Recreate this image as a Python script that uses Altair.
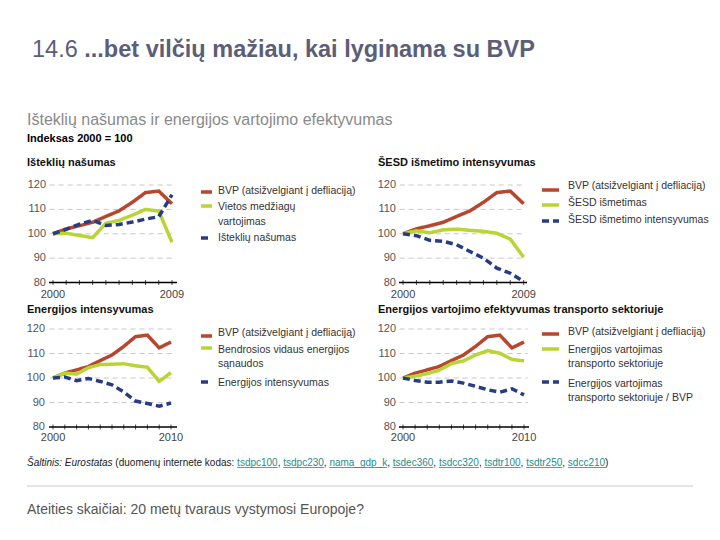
import altair as alt
import pandas as pd

FONT = "Liberation Sans"
M = 8            # page margin: image px -> chart px
W, H = 704, 524

# ---------------- data ----------------
YEARS_09 = list(range(2000, 2010))
YEARS_10 = list(range(2000, 2011))

GDP = [100, 102.0, 103.3, 104.7, 107.1, 109.4, 112.9, 116.9, 117.5, 112.3, 114.7]
DMC = [100, 100.2, 99.3, 98.4, 104.3, 105.5, 107.6, 110.0, 109.3, 96.5]
RES_PROD = [100, 101.8, 103.9, 105.5, 103.4, 103.8, 104.8, 106.0, 107.0, 116.0]
GHG = [100, 101.2, 100.4, 101.6, 101.9, 101.4, 101.0, 100.2, 97.8, 90.4]
GHG_INT = [100, 99.2, 97.3, 96.9, 95.5, 92.7, 90.0, 85.9, 83.8, 80.4]
GIEC = [100, 102.0, 101.6, 104.2, 105.5, 105.6, 105.8, 105.0, 104.4, 98.6, 102.2]
EN_INT = [100, 100.4, 98.9, 99.8, 98.6, 97.2, 94.3, 90.6, 89.6, 88.5, 89.8]
TRANSP = [100, 100.7, 101.8, 103.2, 105.9, 107.0, 109.4, 111.2, 110.1, 107.6, 107.0]
TRANSP_GDP = [100, 99.0, 98.3, 98.3, 98.8, 97.9, 96.6, 95.2, 94.2, 95.6, 93.1]

Y_TICKS = [80, 90, 100, 110, 120]
GRID = [90, 100, 110, 120]

TITLE_NUM = "14.6 "
TITLE_BOLD = "...bet vilčių mažiau, kai lyginama su BVP"
SUBTITLE = "Išteklių našumas ir energijos vartojimo efektyvumas"
INDEX_NOTE = "Indeksas 2000 = 100"
PANEL_TITLES = ["Išteklių našumas", "ŠESD išmetimo intensyvumas",
                "Energijos intensyvumas",
                "Energijos vartojimo efektyvumas transporto sektoriuje"]
BVP = "BVP (atsižvelgiant į defliaciją)"
NAMES_1 = [BVP, "Vietos medžiagų vartojimas", "Išteklių našumas"]
LEGEND_1 = [[BVP], ["Vietos medžiagų", "vartojimas"], ["Išteklių našumas"]]
NAMES_2 = [BVP, "ŠESD išmetimas", "ŠESD išmetimo intensyvumas"]
LEGEND_2 = [[BVP], ["ŠESD išmetimas"], ["ŠESD išmetimo intensyvumas"]]
NAMES_3 = [BVP, "Bendrosios vidaus energijos sąnaudos", "Energijos intensyvumas"]
LEGEND_3 = [[BVP], ["Bendrosios vidaus energijos", "sąnaudos"], ["Energijos intensyvumas"]]
NAMES_4 = [BVP, "Energijos vartojimas transporto sektoriuje",
           "Energijos vartojimas transporto sektoriuje / BVP"]
LEGEND_4 = [[BVP], ["Energijos vartojimas", "transporto sektoriuje"],
            ["Energijos vartojimas", "transporto sektoriuje / BVP"]]

SOURCE_ITALIC = "Šaltinis: Eurostatas "
SOURCE_PLAIN = "(duomenų internete kodas: "
CODES = ["tsdpc100", "tsdpc230", "nama_gdp_k", "tsdec360", "tsdcc320",
         "tsdtr100", "tsdtr250", "sdcc210"]
FOOTER = "Ateities skaičiai: 20 metų tvaraus vystymosi Europoje?"

# ---------------- style ----------------
RED, GREEN, BLUE = "#b6472f", "#b9d434", "#263c86"
GRID_C = "#c8c8c8"
TEAL = "#1f8c8c"
LEG_FS = 10.5

# Arial / Liberation Sans advance widths (1/1000 em) for text layout
AW = {' ': 278, '(': 333, ')': 333, ',': 278, '.': 278, ':': 278, '_': 556,
      'a': 556, 'b': 556, 'c': 500, 'd': 556, 'e': 556, 'f': 278, 'g': 556,
      'h': 556, 'i': 222, 'j': 222, 'k': 500, 'l': 222, 'm': 833, 'n': 556,
      'o': 556, 'p': 556, 'q': 556, 'r': 333, 's': 500, 't': 278, 'u': 556,
      'v': 500, 'w': 722, 'x': 500, 'y': 500, 'z': 500, 'E': 667, 'Š': 667,
      'ų': 556, 'ą': 556, 'č': 500, 'ž': 500, 'į': 222}


def tw(s, size):
    return sum(AW.get(c, 556) for c in s) * size / 1000.0


def text_layer(t, x, y, size=11, color="#333333", weight="normal",
               style="normal", baseline="middle"):
    return alt.Chart(pd.DataFrame({"t": [t]})).mark_text(
        align="left", baseline=baseline, font=FONT, fontSize=size,
        fontWeight=weight, fontStyle=style, color=color
    ).encode(text="t:N", x=alt.value(x - M), y=alt.value(y - M))


def rule_layer(x1, x2, y, color, width=1.0):
    return alt.Chart(pd.DataFrame({"k": [0]})).mark_rule(
        color=color, strokeWidth=width
    ).encode(x=alt.value(x1 - M), x2=alt.value(x2 - M), y=alt.value(y - M))


def panel(years, series, names, legend_lines, title, geo, leg):
    df = pd.DataFrame([{"year": yr, "value": v, "series": n}
                       for n, vals in zip(names, series)
                       for yr, v in zip(years, vals)])
    xs = alt.Scale(domain=geo["xdom"], range=[geo["xrng"][0] - M, geo["xrng"][1] - M],
                   nice=False, zero=False)
    ys = alt.Scale(domain=[80, 120], range=[geo["yrng"][0] - M, geo["yrng"][1] - M],
                   nice=False, zero=False)
    cs = alt.Scale(domain=names, range=[RED, GREEN, BLUE])
    ds = alt.Scale(domain=names, range=[[1, 0], [1, 0], [7, 4]])
    y_axis_px = geo["yrng"][0] - M

    # dashed grid lines
    grid = alt.Chart(pd.DataFrame({"v": GRID,
                                   "a": [geo["xdom"][0] + 0.05] * len(GRID),
                                   "b": [geo["xdom"][1] - 0.1] * len(GRID)})).mark_rule(
        color=GRID_C, strokeWidth=1, strokeDash=[5, 4]
    ).encode(x=alt.X("a:Q", scale=xs, axis=None), x2="b:Q",
             y=alt.Y("v:Q", scale=ys, axis=None))

    # x axis: baseline, year ticks, first/last labels
    base = alt.Chart(pd.DataFrame({"a": [geo["xdom"][0]], "b": [geo["xdom"][1]],
                                   "v": [80]})).mark_rule(color="#000000", strokeWidth=1.6).encode(
        x=alt.X("a:Q", scale=xs, axis=None), x2="b:Q",
        y=alt.Y("v:Q", scale=ys, axis=None))
    ticks = alt.Chart(pd.DataFrame({"year": years})).mark_tick(
        color="#000000", size=5, thickness=1, orient="vertical"
    ).encode(x=alt.X("year:Q", scale=xs, axis=None), y=alt.value(y_axis_px))
    xlab = alt.Chart(pd.DataFrame({"year": [years[0], years[-1]]})).mark_text(
        font=FONT, fontSize=11, color="#444444", align="center", baseline="middle"
    ).encode(x=alt.X("year:Q", scale=xs, axis=None),
             y=alt.value(y_axis_px + geo["xl"]),
             text=alt.Text("year:Q", format="d"))
    # y axis labels
    ylab = alt.Chart(pd.DataFrame({"v": Y_TICKS})).mark_text(
        font=FONT, fontSize=11, color="#555555", align="right", baseline="middle"
    ).encode(y=alt.Y("v:Q", scale=ys, axis=None), x=alt.value(geo["yax"] - 4 - M),
             text=alt.Text("v:Q", format="d"))

    lines = alt.Chart(df).mark_line(strokeWidth=3.5).encode(
        x=alt.X("year:Q", scale=xs, axis=None),
        y=alt.Y("value:Q", scale=ys, axis=None),
        color=alt.Color("series:N", scale=cs, legend=None),
        strokeDash=alt.StrokeDash("series:N", scale=ds, legend=None),
    )
    layers = [grid, base, ticks, xlab, ylab, lines]
    for name, txt, (sw_y, tys) in zip(names, legend_lines, leg["items"]):
        layers.append(alt.Chart(pd.DataFrame({"series": [name]})).mark_rule(
            strokeWidth=3.5
        ).encode(x=alt.value(leg["sx"][0] - M), x2=alt.value(leg["sx"][1] - M),
                 y=alt.value(sw_y - M),
                 color=alt.Color("series:N", scale=cs, legend=None),
                 strokeDash=alt.StrokeDash("series:N", scale=ds, legend=None)))
        for ln, ty in zip(txt, tys):
            layers.append(text_layer(ln, leg["tx"], ty, size=LEG_FS))
    layers.append(text_layer(title, geo["tx"], geo["ty"], size=11, color="#111111",
                             weight="bold", baseline="alphabetic"))
    return alt.layer(*layers)


p1 = panel(YEARS_09, [GDP[:10], DMC, RES_PROD], NAMES_1, LEGEND_1, PANEL_TITLES[0],
           dict(xdom=[1999.7, 2009.38], xrng=[49, 177], yrng=[282.5, 185], yax=50,
                tx=27, ty=166, xl=12.5),
           dict(sx=[201, 212], tx=218, items=[(192, [191]), (206, [207, 222]), (238, [238])]))
p2 = panel(YEARS_09, [GDP[:10], GHG, GHG_INT], NAMES_2, LEGEND_2, PANEL_TITLES[1],
           dict(xdom=[1999.7, 2009.25], xrng=[399, 527], yrng=[282.5, 185], yax=400,
                tx=378, ty=166, xl=12.5),
           dict(sx=[542, 559], tx=568, items=[(190, [186]), (205, [203]), (221, [220])]))
p3 = panel(YEARS_10, [GDP, GIEC, EN_INT], NAMES_3, LEGEND_3, PANEL_TITLES[2],
           dict(xdom=[1999.66, 2010.51], xrng=[49, 177], yrng=[427, 329], yax=49,
                tx=27, ty=313, xl=10.5),
           dict(sx=[201, 212], tx=218, items=[(336, [333]), (348, [350, 364]), (382, [383])]))
p4 = panel(YEARS_10, [GDP, TRANSP, TRANSP_GDP], NAMES_4, LEGEND_4, PANEL_TITLES[3],
           dict(xdom=[1999.67, 2010.41], xrng=[399, 529], yrng=[427, 329], yax=400,
                tx=378, ty=313, xl=10.5),
           dict(sx=[542, 559], tx=568, items=[(334, [332]), (349, [350, 364]), (382, [384, 398])]))

# ---------------- header ----------------
TS = 23.5
header = [
    text_layer(TITLE_NUM, 32, 57, size=TS, color="#5b5e79", baseline="alphabetic"),
    text_layer(TITLE_BOLD, 32 + tw(TITLE_NUM, TS), 57, size=TS, color="#5b5e79",
               weight="bold", baseline="alphabetic"),
    text_layer(SUBTITLE, 27, 125, size=16, color="#8a8a8a", baseline="alphabetic"),
    text_layer(INDEX_NOTE, 27, 142, size=11, color="#000000", weight="bold",
               baseline="alphabetic"),
]

# ---------------- source + footer ----------------
SS, SY = 10, 466
footer = [text_layer(SOURCE_ITALIC, 27, SY, size=SS, color="#222222", style="italic",
                     baseline="alphabetic")]
cx = 27 + tw(SOURCE_ITALIC, SS)
footer.append(text_layer(SOURCE_PLAIN, cx, SY, size=SS, color="#222222", baseline="alphabetic"))
cx += tw(SOURCE_PLAIN, SS)
for i, code in enumerate(CODES):
    w = tw(code, SS)
    footer.append(text_layer(code, cx, SY, size=SS, color=TEAL, baseline="alphabetic"))
    footer.append(rule_layer(cx, cx + w, SY + 1.5, TEAL, 0.8))
    cx += w
    sep = ", " if i < len(CODES) - 1 else ")"
    footer.append(text_layer(sep, cx, SY, size=SS, color="#222222", baseline="alphabetic"))
    cx += tw(sep, SS)
footer.append(rule_layer(27, 693, 486, "#c8c8c8", 1))
footer.append(text_layer(FOOTER, 27, 514, size=14, color="#555555", baseline="alphabetic"))

chart = alt.layer(*header, p1, p2, p3, p4, *footer).resolve_scale(
    x="independent", y="independent", color="independent", strokeDash="independent"
).properties(
    width=W, height=H, padding=0, autosize=alt.AutoSizeParams(type="none")
).configure_view(stroke=None)

chart.save("out.html", embed_options={"renderer": "svg", "actions": False})
